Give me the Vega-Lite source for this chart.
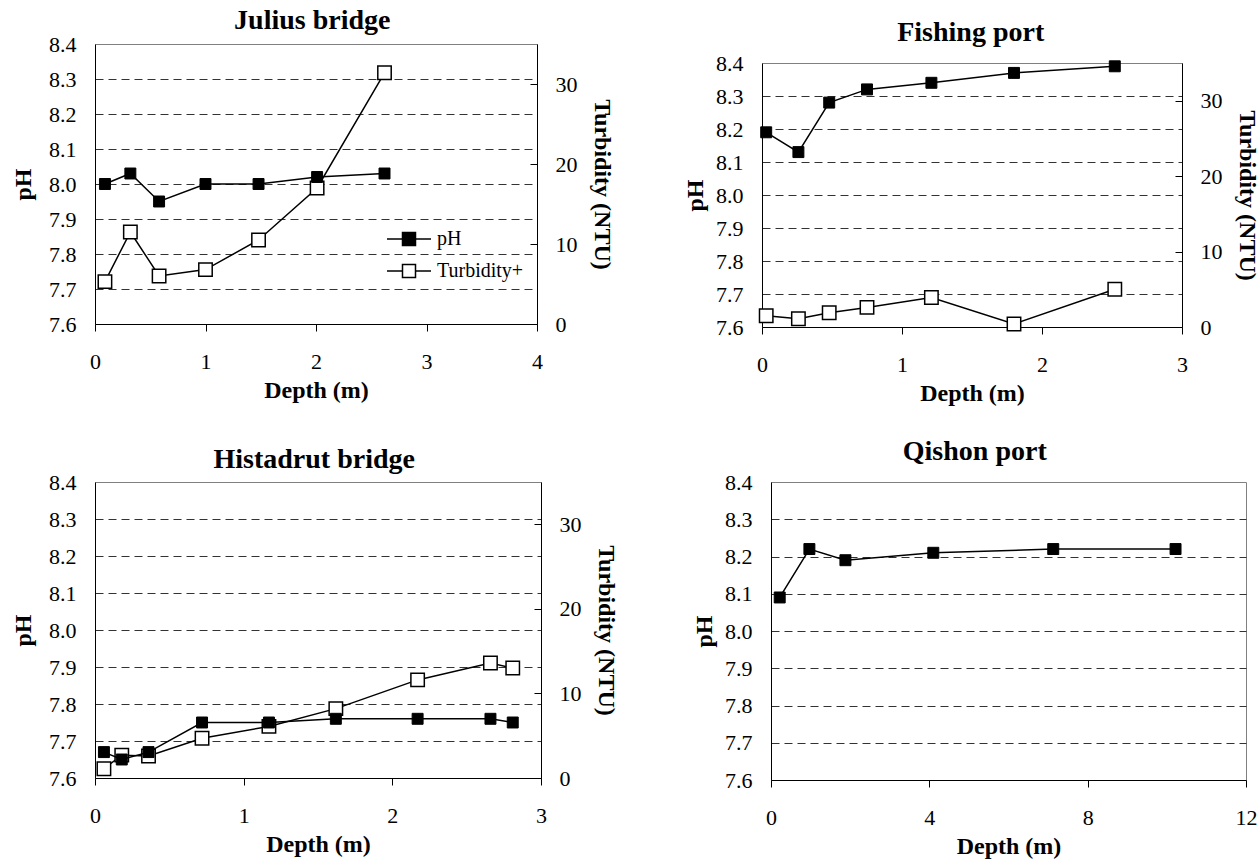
{
  "$schema": "https://vega.github.io/schema/vega-lite/v6.json",
  "padding": {"left": 11, "top": 0, "right": 0, "bottom": 0},
  "background": "white",
  "data": {"values": [
    {"site": "Julius bridge", "depth": 0.09, "param": "pH", "value": 8.00},
    {"site": "Julius bridge", "depth": 0.32, "param": "pH", "value": 8.03},
    {"site": "Julius bridge", "depth": 0.58, "param": "pH", "value": 7.95},
    {"site": "Julius bridge", "depth": 1.00, "param": "pH", "value": 8.00},
    {"site": "Julius bridge", "depth": 1.48, "param": "pH", "value": 8.00},
    {"site": "Julius bridge", "depth": 2.01, "param": "pH", "value": 8.02},
    {"site": "Julius bridge", "depth": 2.62, "param": "pH", "value": 8.03},
    {"site": "Julius bridge", "depth": 0.09, "param": "Turbidity+", "value": 5.3},
    {"site": "Julius bridge", "depth": 0.32, "param": "Turbidity+", "value": 11.5},
    {"site": "Julius bridge", "depth": 0.58, "param": "Turbidity+", "value": 6.0},
    {"site": "Julius bridge", "depth": 1.00, "param": "Turbidity+", "value": 6.8},
    {"site": "Julius bridge", "depth": 1.48, "param": "Turbidity+", "value": 10.5},
    {"site": "Julius bridge", "depth": 2.01, "param": "Turbidity+", "value": 17.0},
    {"site": "Julius bridge", "depth": 2.62, "param": "Turbidity+", "value": 31.4},
    {"site": "Fishing port", "depth": 0.03, "param": "pH", "value": 8.19},
    {"site": "Fishing port", "depth": 0.26, "param": "pH", "value": 8.13},
    {"site": "Fishing port", "depth": 0.48, "param": "pH", "value": 8.28},
    {"site": "Fishing port", "depth": 0.75, "param": "pH", "value": 8.32},
    {"site": "Fishing port", "depth": 1.21, "param": "pH", "value": 8.34},
    {"site": "Fishing port", "depth": 1.80, "param": "pH", "value": 8.37},
    {"site": "Fishing port", "depth": 2.52, "param": "pH", "value": 8.39},
    {"site": "Fishing port", "depth": 0.03, "param": "Turbidity+", "value": 1.5},
    {"site": "Fishing port", "depth": 0.26, "param": "Turbidity+", "value": 1.1},
    {"site": "Fishing port", "depth": 0.48, "param": "Turbidity+", "value": 1.9},
    {"site": "Fishing port", "depth": 0.75, "param": "Turbidity+", "value": 2.6},
    {"site": "Fishing port", "depth": 1.21, "param": "Turbidity+", "value": 3.9},
    {"site": "Fishing port", "depth": 1.80, "param": "Turbidity+", "value": 0.4},
    {"site": "Fishing port", "depth": 2.52, "param": "Turbidity+", "value": 5.0},
    {"site": "Histadrut bridge", "depth": 0.06, "param": "pH", "value": 7.67},
    {"site": "Histadrut bridge", "depth": 0.18, "param": "pH", "value": 7.65},
    {"site": "Histadrut bridge", "depth": 0.36, "param": "pH", "value": 7.67},
    {"site": "Histadrut bridge", "depth": 0.72, "param": "pH", "value": 7.75},
    {"site": "Histadrut bridge", "depth": 1.17, "param": "pH", "value": 7.75},
    {"site": "Histadrut bridge", "depth": 1.62, "param": "pH", "value": 7.76},
    {"site": "Histadrut bridge", "depth": 2.17, "param": "pH", "value": 7.76},
    {"site": "Histadrut bridge", "depth": 2.66, "param": "pH", "value": 7.76},
    {"site": "Histadrut bridge", "depth": 2.81, "param": "pH", "value": 7.75},
    {"site": "Histadrut bridge", "depth": 0.06, "param": "Turbidity+", "value": 1.1},
    {"site": "Histadrut bridge", "depth": 0.18, "param": "Turbidity+", "value": 2.7},
    {"site": "Histadrut bridge", "depth": 0.36, "param": "Turbidity+", "value": 2.6},
    {"site": "Histadrut bridge", "depth": 0.72, "param": "Turbidity+", "value": 4.7},
    {"site": "Histadrut bridge", "depth": 1.17, "param": "Turbidity+", "value": 6.1},
    {"site": "Histadrut bridge", "depth": 1.62, "param": "Turbidity+", "value": 8.2},
    {"site": "Histadrut bridge", "depth": 2.17, "param": "Turbidity+", "value": 11.6},
    {"site": "Histadrut bridge", "depth": 2.66, "param": "Turbidity+", "value": 13.6},
    {"site": "Histadrut bridge", "depth": 2.81, "param": "Turbidity+", "value": 13.0},
    {"site": "Qishon port", "depth": 0.22, "param": "pH", "value": 8.09},
    {"site": "Qishon port", "depth": 0.97, "param": "pH", "value": 8.22},
    {"site": "Qishon port", "depth": 1.88, "param": "pH", "value": 8.19},
    {"site": "Qishon port", "depth": 4.10, "param": "pH", "value": 8.21},
    {"site": "Qishon port", "depth": 7.13, "param": "pH", "value": 8.22},
    {"site": "Qishon port", "depth": 10.22, "param": "pH", "value": 8.22}
  ]},
  "vconcat": [
    {
      "hconcat": [
        {
          "vconcat": [
            {"data": {"values": []}, "mark": "point", "width": 1, "height": 6, "view": {"stroke": null}},
            {
              "title": {"text": "Julius bridge", "offset": -2},
              "width": 442,
              "height": 280,
              "layer": [
                {
                  "transform": [{"filter": "datum.site === 'Julius bridge' && datum.param === 'Turbidity+'"}],
                  "encoding": {
                    "x": {"field": "depth", "type": "quantitative", "scale": {"domain": [0, 4], "nice": false, "zero": false}, "axis": {"values": [0, 1, 2, 3, 4], "title": "Depth (m)"}},
                    "y": {"field": "value", "type": "quantitative", "scale": {"domain": [0, 35], "nice": false}, "axis": {"orient": "right", "values": [0, 10, 20, 30], "title": "Turbidity (NTU)", "ticks": true, "tickSize": -7, "labelPadding": 25, "titlePadding": 12}}
                  },
                  "layer": [
                    {"mark": {"type": "line", "color": "black", "strokeWidth": 1.5}},
                    {"mark": {"type": "point", "shape": "square", "filled": true, "size": 180, "stroke": "black", "strokeWidth": 1.5, "opacity": 1},
                     "encoding": {"fill": {"field": "param", "type": "nominal", "scale": {"domain": ["pH", "Turbidity+"], "range": ["black", "white"]},
                       "legend": {"orient": "none", "legendX": 303, "legendY": 184, "title": null, "padding": 0, "symbolType": "M-2.2,0H-0.65M0.65,0H2.2M-0.65,-0.65H0.65V0.65H-0.65Z", "symbolSize": 400, "symbolStrokeColor": "black", "symbolStrokeWidth": 1.5, "symbolOpacity": 1, "labelFont": "Liberation Serif", "labelFontSize": 20, "labelColor": "black", "labelOffset": 17, "rowPadding": 11}}}}
                  ]
                },
                {
                  "transform": [{"filter": "datum.site === 'Julius bridge' && datum.param === 'pH'"}],
                  "encoding": {
                    "x": {"field": "depth", "type": "quantitative", "scale": {"domain": [0, 4], "nice": false, "zero": false}, "axis": {"values": [0, 1, 2, 3, 4], "title": "Depth (m)"}},
                    "y": {"field": "value", "type": "quantitative", "scale": {"domain": [7.6, 8.4], "nice": false, "zero": false}, "axis": {"orient": "left", "values": [7.6, 7.7, 7.8, 7.9, 8.0, 8.1, 8.2, 8.3, 8.4], "format": ".1f", "title": "pH", "ticks": false, "labelPadding": 19, "titlePadding": 13, "grid": true, "gridColor": "#333333", "gridDash": [8, 5], "gridOpacity": {"condition": {"test": "datum.value < 7.65 || datum.value > 8.35", "value": 0}, "value": 1}}}
                  },
                  "layer": [
                    {"mark": {"type": "line", "color": "black", "strokeWidth": 1.5}},
                    {"mark": {"type": "point", "shape": "square", "filled": true, "size": 120, "stroke": "black", "strokeWidth": 1, "opacity": 1},
                     "encoding": {"fill": {"field": "param", "type": "nominal", "scale": {"domain": ["pH", "Turbidity+"], "range": ["black", "white"]}}}}
                  ]
                }
              ],
              "resolve": {"scale": {"y": "independent"}}
            }
          ],
          "spacing": 0,
          "resolve": {"scale": {"fill": "independent"}, "legend": {"fill": "independent"}}
        },
        {
          "vconcat": [
            {"data": {"values": []}, "mark": "point", "width": 1, "height": 18, "view": {"stroke": null}},
            {
              "title": {"text": "Fishing port", "offset": 5},
              "width": 420,
              "height": 264,
              "layer": [
                {
                  "transform": [{"filter": "datum.site === 'Fishing port' && datum.param === 'Turbidity+'"}],
                  "encoding": {
                    "x": {"field": "depth", "type": "quantitative", "scale": {"domain": [0, 3], "nice": false, "zero": false}, "axis": {"values": [0, 1, 2, 3], "title": "Depth (m)"}},
                    "y": {"field": "value", "type": "quantitative", "scale": {"domain": [0, 35], "nice": false}, "axis": {"orient": "right", "values": [0, 10, 20, 30], "title": "Turbidity (NTU)", "ticks": true, "tickSize": -7, "labelPadding": 25, "titlePadding": 12}}
                  },
                  "layer": [
                    {"mark": {"type": "line", "color": "black", "strokeWidth": 1.5}},
                    {"mark": {"type": "point", "shape": "square", "filled": true, "size": 180, "fill": "white", "stroke": "black", "strokeWidth": 1.5, "opacity": 1}}
                  ]
                },
                {
                  "transform": [{"filter": "datum.site === 'Fishing port' && datum.param === 'pH'"}],
                  "encoding": {
                    "x": {"field": "depth", "type": "quantitative", "scale": {"domain": [0, 3], "nice": false, "zero": false}, "axis": {"values": [0, 1, 2, 3], "title": "Depth (m)"}},
                    "y": {"field": "value", "type": "quantitative", "scale": {"domain": [7.6, 8.4], "nice": false, "zero": false}, "axis": {"orient": "left", "values": [7.6, 7.7, 7.8, 7.9, 8.0, 8.1, 8.2, 8.3, 8.4], "format": ".1f", "title": "pH", "ticks": false, "labelPadding": 19, "titlePadding": 8, "grid": true, "gridColor": "#333333", "gridDash": [8, 5], "gridOpacity": {"condition": {"test": "datum.value < 7.65 || datum.value > 8.35", "value": 0}, "value": 1}}}
                  },
                  "layer": [
                    {"mark": {"type": "line", "color": "black", "strokeWidth": 1.5}},
                    {"mark": {"type": "point", "shape": "square", "filled": true, "size": 120, "fill": "black", "stroke": "black", "strokeWidth": 1, "opacity": 1}}
                  ]
                }
              ],
              "resolve": {"scale": {"y": "independent"}}
            }
          ],
          "spacing": 0,
          "resolve": {"scale": {"fill": "independent"}, "legend": {"fill": "independent"}}
        }
      ],
      "spacing": 69,
      "resolve": {"scale": {"fill": "independent"}, "legend": {"fill": "independent"}}
    },
    {
      "hconcat": [
        {
          "title": {"text": "Histadrut bridge", "offset": -3},
          "width": 446,
          "height": 296,
          "layer": [
            {
              "transform": [{"filter": "datum.site === 'Histadrut bridge' && datum.param === 'Turbidity+'"}],
              "encoding": {
                "x": {"field": "depth", "type": "quantitative", "scale": {"domain": [0, 3], "nice": false, "zero": false}, "axis": {"values": [0, 1, 2, 3], "title": "Depth (m)"}},
                "y": {"field": "value", "type": "quantitative", "scale": {"domain": [0, 35], "nice": false}, "axis": {"orient": "right", "values": [0, 10, 20, 30], "title": "Turbidity (NTU)", "ticks": true, "tickSize": -7, "labelPadding": 25, "titlePadding": 12}}
              },
              "layer": [
                {"mark": {"type": "line", "color": "black", "strokeWidth": 1.5}},
                {"mark": {"type": "point", "shape": "square", "filled": true, "size": 180, "fill": "white", "stroke": "black", "strokeWidth": 1.5, "opacity": 1}}
              ]
            },
            {
              "transform": [{"filter": "datum.site === 'Histadrut bridge' && datum.param === 'pH'"}],
              "encoding": {
                "x": {"field": "depth", "type": "quantitative", "scale": {"domain": [0, 3], "nice": false, "zero": false}, "axis": {"values": [0, 1, 2, 3], "title": "Depth (m)"}},
                "y": {"field": "value", "type": "quantitative", "scale": {"domain": [7.6, 8.4], "nice": false, "zero": false}, "axis": {"orient": "left", "values": [7.6, 7.7, 7.8, 7.9, 8.0, 8.1, 8.2, 8.3, 8.4], "format": ".1f", "title": "pH", "ticks": false, "labelPadding": 19, "titlePadding": 13, "grid": true, "gridColor": "#333333", "gridDash": [8, 5], "gridOpacity": {"condition": {"test": "datum.value < 7.65 || datum.value > 8.35", "value": 0}, "value": 1}}}
              },
              "layer": [
                {"mark": {"type": "line", "color": "black", "strokeWidth": 1.5}},
                {"mark": {"type": "point", "shape": "square", "filled": true, "size": 120, "fill": "black", "stroke": "black", "strokeWidth": 1, "opacity": 1}}
              ]
            }
          ],
          "resolve": {"scale": {"y": "independent"}}
        },
        {
          "title": {"text": "Qishon port", "offset": 5},
          "width": 475,
          "height": 298,
          "transform": [{"filter": "datum.site === 'Qishon port' && datum.param === 'pH'"}],
          "encoding": {
            "x": {"field": "depth", "type": "quantitative", "scale": {"domain": [0, 12], "nice": false, "zero": false}, "axis": {"values": [0, 4, 8, 12], "title": "Depth (m)"}},
            "y": {"field": "value", "type": "quantitative", "scale": {"domain": [7.6, 8.4], "nice": false, "zero": false}, "axis": {"orient": "left", "values": [7.6, 7.7, 7.8, 7.9, 8.0, 8.1, 8.2, 8.3, 8.4], "format": ".1f", "title": "pH", "ticks": false, "labelPadding": 19, "titlePadding": 8, "grid": true, "gridColor": "#333333", "gridDash": [8, 5], "gridOpacity": {"condition": {"test": "datum.value < 7.65 || datum.value > 8.35", "value": 0}, "value": 1}}}
          },
          "layer": [
            {"mark": {"type": "line", "color": "black", "strokeWidth": 1.5}},
            {"mark": {"type": "point", "shape": "square", "filled": true, "size": 120, "fill": "black", "stroke": "black", "strokeWidth": 1, "opacity": 1}}
          ]
        }
      ],
      "spacing": 74,
      "resolve": {"scale": {"fill": "independent"}, "legend": {"fill": "independent"}}
    }
  ],
  "spacing": 31,
  "resolve": {"scale": {"fill": "independent"}, "legend": {"fill": "independent"}},
  "config": {
    "font": "Liberation Serif",
    "view": {"stroke": "#808080", "strokeWidth": 1},
    "title": {"font": "Liberation Serif", "fontSize": 28, "fontWeight": "bold", "color": "black", "anchor": "middle", "frame": "bounds"},
    "axis": {
      "labelFont": "Liberation Serif", "labelFontSize": 22, "labelColor": "black",
      "titleFont": "Liberation Serif", "titleFontSize": 24, "titleFontWeight": "bold", "titleColor": "black",
      "domainColor": "black", "domainWidth": 1, "tickColor": "black", "tickWidth": 1, "grid": false
    },
    "axisX": {"tickSize": 7, "labelPadding": 20, "titlePadding": 6, "labelFlush": false, "labelFont": "Liberation Serif"},
    "axisY": {"labelFlush": false, "labelOverlap": false, "labelFont": "Liberation Serif"}
  }
}
